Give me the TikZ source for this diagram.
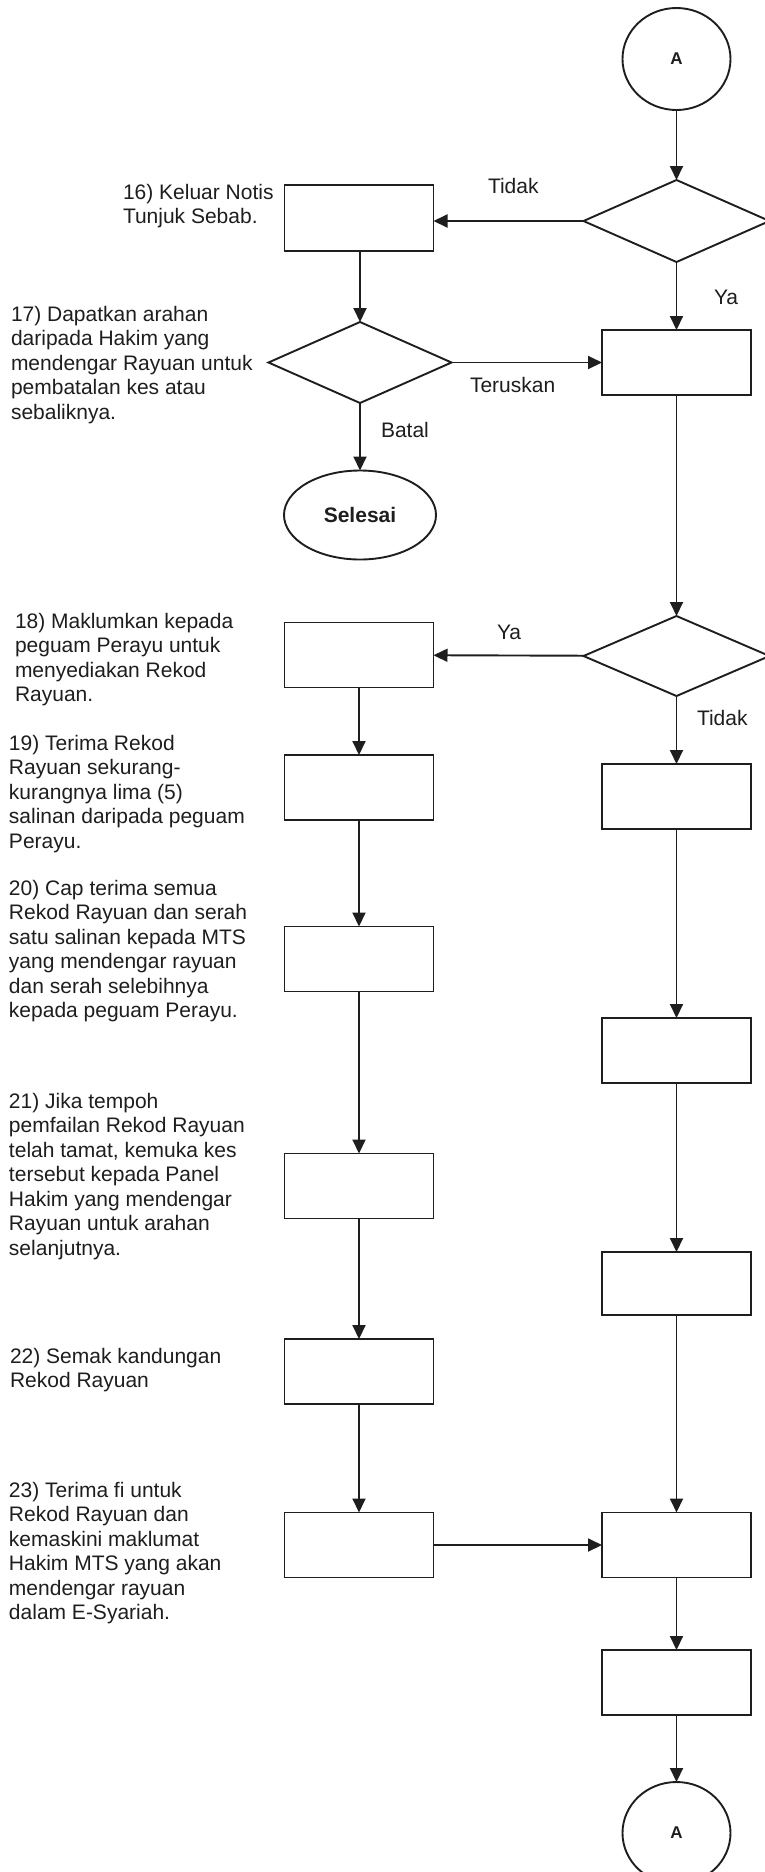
\documentclass[tikz,border=0pt]{standalone}
\usepackage{fontspec}
\setmainfont{Liberation Sans}
\usetikzlibrary{shapes.geometric,arrows.meta}
\definecolor{ink}{HTML}{1E1E1E}
\begin{document}
\begin{tikzpicture}[x=1pt,y=-1pt,
  every node/.style={inner sep=0pt,outer sep=0pt,text=ink},
  box/.style={draw=ink, line width=1.9pt, minimum width=149pt, minimum height=65pt},
  dec/.style={draw=ink, diamond, line width=1.9pt, minimum width=186pt, minimum height=82pt},
  conn/.style={draw=ink, ellipse, line width=1.9pt, minimum width=108pt, minimum height=102pt, font=\fontsize{17}{20}\selectfont\bfseries},
  term/.style={draw=ink, ellipse, line width=1.9pt, minimum width=152pt, minimum height=89pt, font=\fontsize{21}{24}\selectfont\bfseries},
  desc/.style={anchor=north west, align=left, font=\fontsize{21}{24.5}\selectfont},
  lbl/.style={anchor=base west, font=\fontsize{21}{24.5}\selectfont},
  arr/.style={draw=ink, line width=1.9pt, -{Triangle[length=14pt,width=13pt]}}
]
\fill[white] (0,0) rectangle (764,1872);
\useasboundingbox (0,0) rectangle (764,1872);

% right column
\node[conn] (A1) at (676.5,59) {A};
\node[dec] (D1) at (676.5,221) {};
\node[box] (R1) at (676.5,362.5) {};
\node[dec, minimum height=80pt] (D3) at (676.5,656) {};
\node[box] (R2) at (676.5,796.5) {};
\node[box] (R3) at (676.5,1050.5) {};
\node[box, minimum height=63pt] (R4) at (676.5,1283.5) {};
\node[box] (R5) at (676.5,1545) {};
\node[box] (R6) at (676.5,1682.5) {};
\node[conn] (A2) at (676.5,1833) {A};

% left column
\node[box, minimum height=66pt] (B16) at (359,218) {};
\node[dec, minimum width=183pt, minimum height=81pt] (D2) at (360,362.5) {};
\node[term] (S) at (360,515) {Selesai};
\node[box] (B18) at (359,655) {};
\node[box] (B19) at (359,787.5) {};
\node[box] (B20) at (359,959) {};
\node[box] (B21) at (359,1186) {};
\node[box] (B22) at (359,1371.5) {};
\node[box] (B23) at (359,1545) {};

% connectors
\draw[arr] (A1) -- (D1);
\draw[arr] (D1.west) -- (D1.west -| B16.east);
\draw[arr] (D1) -- (R1);
\draw[arr] (B16.south -| D2.north) -- (D2.north);
\draw[arr] (D2) -- (R1);
\draw[arr] (D2) -- (S);
\draw[arr] (R1) -- (D3);
\draw[arr] (D3) -- (B18);
\draw[arr] (D3) -- (R2);
\draw[arr] (B18) -- (B19);
\draw[arr] (B19) -- (B20);
\draw[arr] (B20) -- (B21);
\draw[arr] (B21) -- (B22);
\draw[arr] (B22) -- (B23);
\draw[arr] (B23) -- (R5);
\draw[arr] (R2) -- (R3);
\draw[arr] (R3) -- (R4);
\draw[arr] (R4) -- (R5);
\draw[arr] (R5) -- (R6);
\draw[arr] (R6) -- (A2);

% connector labels
\node[lbl] (l1) at (488,193) {Tidak};
\node[lbl] (l2) at (714,304) {Ya};
\node[lbl] (l3) at (470,392) {Teruskan};
\node[lbl] (l4) at (381,437) {Batal};
\node[lbl] (l5) at (497,639) {Ya};
\node[lbl] (l6) at (697,725) {Tidak};

% step descriptions
\node[desc] (t16) at (123,184) {16) Keluar Notis\\Tunjuk Sebab.};
\node[desc] (t17) at (11,306) {17) Dapatkan arahan\\daripada Hakim yang\\mendengar Rayuan untuk\\pembatalan kes atau\\sebaliknya.};
\node[desc] (t18) at (15,613) {18) Maklumkan kepada\\peguam Perayu untuk\\menyediakan Rekod\\Rayuan.};
\node[desc] (t19) at (9,735) {19) Terima Rekod\\Rayuan sekurang-\\kurangnya lima (5)\\salinan daripada peguam\\Perayu.};
\node[desc] (t20) at (9,880) {20) Cap terima semua\\Rekod Rayuan dan serah\\satu salinan kepada MTS\\yang mendengar rayuan\\dan serah selebihnya\\kepada peguam Perayu.};
\node[desc] (t21) at (9,1093) {21) Jika tempoh\\pemfailan Rekod Rayuan\\telah tamat, kemuka kes\\tersebut kepada Panel\\Hakim yang mendengar\\Rayuan untuk arahan\\selanjutnya.};
\node[desc] (t22) at (10,1348) {22) Semak kandungan\\Rekod Rayuan};
\node[desc] (t23) at (9,1482) {23) Terima fi untuk\\Rekod Rayuan dan\\kemaskini maklumat\\Hakim MTS yang akan\\mendengar rayuan\\dalam E-Syariah.};
\end{tikzpicture}
\end{document}
